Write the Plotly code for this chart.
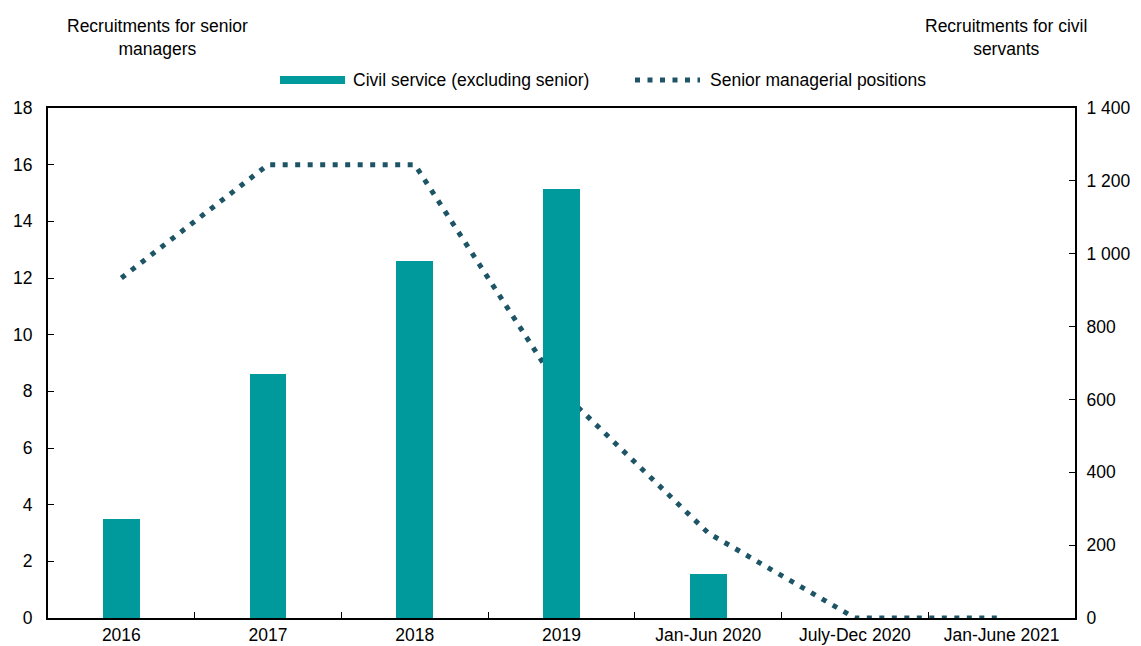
import plotly.graph_objects as go

categories = ["2016", "2017", "2018", "2019", "Jan-Jun 2020", "July-Dec 2020", "Jan-June 2021"]
civil_service = [272, 670, 980, 1177, 120, None, None]
senior_managers = [12, 16, 16, 8, 3, 0, 0]

BAR_COLOR = "#009A9C"
LINE_COLOR = "#1E5566"
DOTS = "5px,7.5px"
FONT = "Liberation Sans, Arial, sans-serif"
W, H = 1141, 646
L, R, T, B = 48, 66, 108, 28
PW, PH = W - L - R, H - T - B


def px_x(x):
    return (x - L) / PW


def px_y(y):
    return (H - B - y) / PH


fig = go.Figure()

fig.add_trace(go.Bar(
    x=categories, y=civil_service, name="Civil service (excluding senior)",
    marker=dict(color=BAR_COLOR, line=dict(width=0)), width=0.25, yaxis="y2",
))
fig.add_trace(go.Scatter(
    x=categories, y=senior_managers, name="Senior managerial positions",
    mode="lines", line=dict(color=LINE_COLOR, width=5, dash=DOTS), yaxis="y",
))

# legend drawn by hand to get the wide swatches of the original
legend_shapes = [
    dict(type="rect", xref="paper", yref="paper", x0=px_x(280), x1=px_x(345),
         y0=px_y(84), y1=px_y(76), fillcolor=BAR_COLOR, line=dict(width=0)),
    dict(type="line", xref="paper", yref="paper", x0=px_x(635), x1=px_x(700),
         y0=px_y(80), y1=px_y(80), line=dict(color=LINE_COLOR, width=5, dash=DOTS)),
]
legend_labels = [
    dict(text="Civil service (excluding senior)", xref="paper", yref="paper",
         x=px_x(351), y=px_y(80), xanchor="left", yanchor="middle", showarrow=False),
    dict(text="Senior managerial positions", xref="paper", yref="paper",
         x=px_x(708), y=px_y(80), xanchor="left", yanchor="middle", showarrow=False),
]

axis_titles = [
    dict(text="Recruitments for senior<br>managers", xref="paper", yref="paper",
         x=px_x(157), y=px_y(37), xanchor="center", yanchor="middle", showarrow=False),
    dict(text="Recruitments for civil<br>servants", xref="paper", yref="paper",
         x=px_x(1006), y=px_y(37), xanchor="center", yanchor="middle", showarrow=False),
]

fig.update_layout(
    width=W, height=H,
    margin=dict(l=L, r=R, t=T, b=B),
    paper_bgcolor="white", plot_bgcolor="white",
    font=dict(family=FONT, size=17.5, color="black"),
    separators=". ",
    showlegend=False,
    bargap=0,
    xaxis=dict(type="category", range=[-0.5, 6.5], showline=True, linecolor="black", linewidth=2,
               mirror=True, ticks="inside", tickson="boundaries", ticklen=6, tickcolor="black",
               showgrid=False, zeroline=False, automargin=False),
    yaxis=dict(range=[0, 18], dtick=2, showline=True, linecolor="black", linewidth=2,
               ticks="inside", ticklen=6, tickcolor="black", showgrid=False, zeroline=False,
               ticklabelstandoff=10, automargin=False),
    yaxis2=dict(range=[0, 1400], dtick=200, overlaying="y", side="right", showline=True,
                linecolor="black", linewidth=2, ticks="inside", ticklen=6, tickcolor="black",
                showgrid=False, zeroline=False, tickformat=",", ticklabelstandoff=6,
                automargin=False),
    shapes=legend_shapes,
    annotations=legend_labels + axis_titles,
)

# drop the default page margin so the figure sits at the window's top-left corner
fig.write_html("out.html", config={"displayModeBar": False},
               post_script="document.body.style.margin='0';")
